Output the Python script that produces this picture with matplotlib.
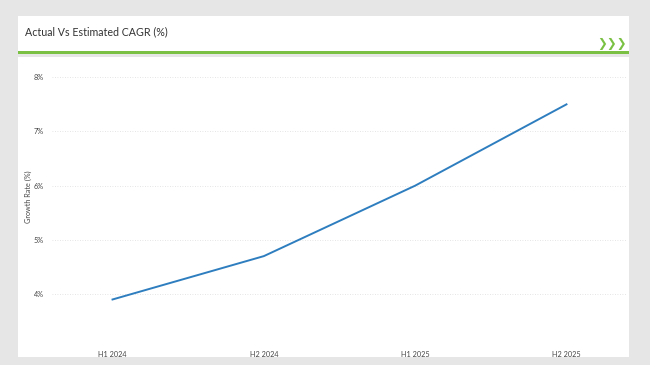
import matplotlib.pyplot as plt
from matplotlib.patches import Rectangle

periods = ["H1 2024", "H2 2024", "H1 2025", "H2 2025"]
growth = [3.9, 4.7, 6.0, 7.5]
yticks = [4, 5, 6, 7, 8]

W, H = 650, 365
fig = plt.figure(figsize=(6.5, 3.65), dpi=100)
fig.patch.set_facecolor('#e6e6e6')
plt.rcParams['font.family'] = ['Lato', 'DejaVu Sans']


def box(x0, y0, x1, y1, color):
    # pixel coords from top-left
    fig.patches.append(Rectangle((x0 / W, 1 - y1 / H), (x1 - x0) / W, (y1 - y0) / H,
                                 transform=fig.transFigure, facecolor=color,
                                 edgecolor='none', zorder=0))


# header panel + green rule
box(18, 16, 629, 52, 'white')
box(18, 51, 629, 54, '#7ac143')
# chart panel
box(18, 57, 629, 357, 'white')

fig.text(25 / W, 1 - 32 / H, "Actual Vs Estimated CAGR (%)", fontsize=7.7,
         color='#333333', va='center', ha='left')
fig.text(627 / W, 1 - 43 / H, "\u276f\u276f\u276f", fontsize=8.5, color='#7ac143',
         va='center', ha='right', fontweight='bold', family=['DejaVu Sans'])

ax = fig.add_axes([52 / W, 1 - 332 / H, (627 - 52) / W, (332 - 61) / H], zorder=2)
ax.set_facecolor('none')
x = list(range(len(periods)))
ax.plot(x, growth, color='#2e7ebf', linewidth=1.4)
ax.set_xlim(-0.4, 3.4)
ax.set_ylim(3.3, 8.3)
ax.set_xticks(x)
ax.set_xticklabels(periods)
ax.set_yticks(yticks)
ax.set_yticklabels([f"{v}%" for v in yticks])
ax.grid(axis='y', linestyle=(0, (1, 2)), color='#dcdcdc', linewidth=0.6)
ax.tick_params(length=0, labelsize=5.2, colors='#444444')
ax.tick_params(axis='x', pad=14)
ax.tick_params(axis='y', pad=6)
for s in ax.spines.values():
    s.set_visible(False)
ax.set_ylabel("Growth Rate (%)", fontsize=5.2, color='#444444', labelpad=1)

fig.savefig("out.png", dpi=100, facecolor=fig.get_facecolor())
